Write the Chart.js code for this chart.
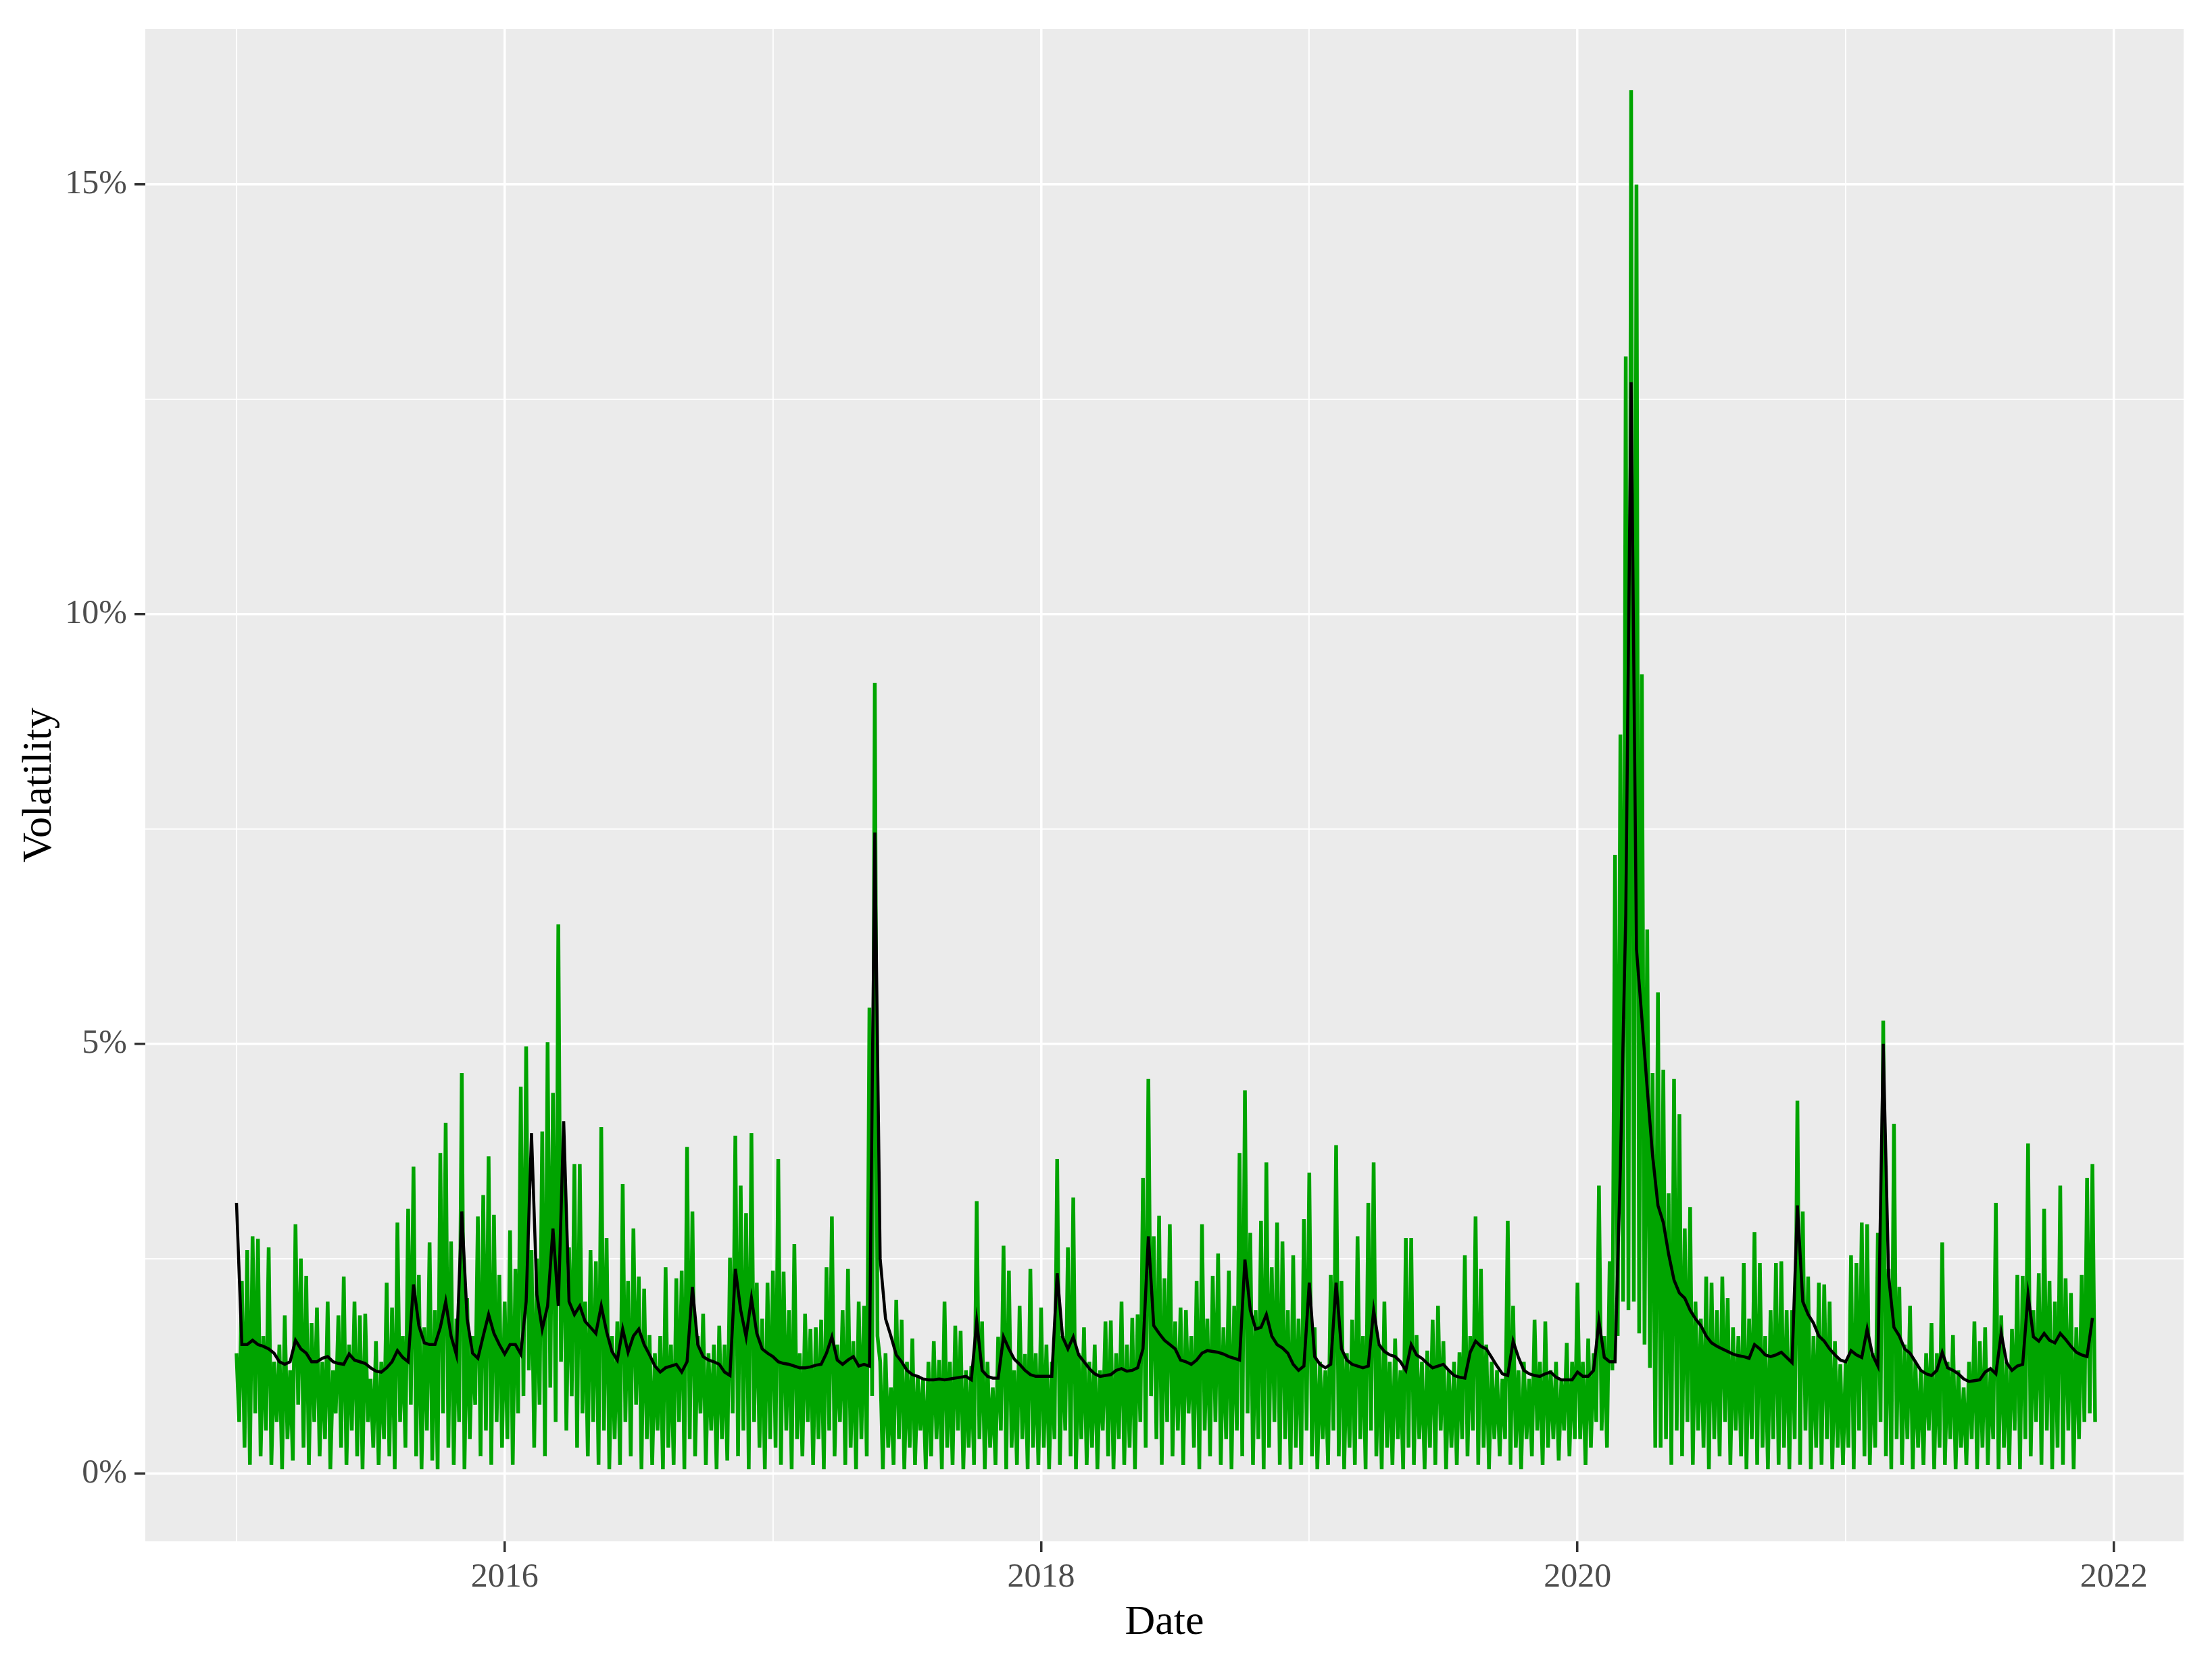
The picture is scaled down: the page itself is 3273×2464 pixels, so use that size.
<!DOCTYPE html>
<html lang="en">
<head>
<meta charset="UTF-8">
<title>Volatility</title>
<script src="https://cdn.jsdelivr.net/npm/chart.js"></script>
<style>
  html, body { margin: 0; padding: 0; background: #ffffff; }
  canvas { display: block; }
</style>
</head>
<body>
<canvas id="chart" width="3273" height="2464"></canvas>
<script>
// green = absolute return (%), 100 samples a year
const years = [2015, 2016, 2017, 2018, 2019, 2020, 2021];

const absRet2015 = [1.4, 0.6, 2.24, 0.3, 2.6, 0.1, 2.76, 0.7, 2.73, 0.2,
  1.6, 0.5, 2.63, 0.1, 1.3, 0.6, 1.5, 0.05, 1.84, 0.4,
  1.2, 0.15, 2.9, 0.8, 2.5, 0.3, 2.3, 0.1, 1.75, 0.6,
  1.93, 0.2, 1.3, 0.4, 2.0, 0.05, 1.2, 0.7, 1.84, 0.3,
  2.29, 0.1, 1.5, 0.5, 2.0, 0.2, 1.84, 0.05, 1.86, 0.6,
  1.1, 0.3, 1.54, 0.1, 1.3, 0.4, 2.22, 0.2, 1.93, 0.05,
  2.92, 0.6, 1.6, 0.3, 3.08, 0.8, 3.57, 0.2, 2.31, 0.05,
  1.7, 0.5, 2.69, 0.15, 1.9, 0.05, 3.73, 0.7, 4.08, 0.3,
  2.7, 0.1, 1.8, 0.6, 4.66, 0.05, 2.04, 0.4, 1.6, 0.8,
  2.99, 0.2, 3.24, 0.5, 3.69, 0.1, 3.01, 0.6, 2.31, 0.3];

const absRet2016 = [2.0, 0.4, 2.83, 0.1, 2.38, 0.7, 4.5, 0.9, 4.97, 1.2,
  2.6, 0.3, 2.5, 0.8, 3.98, 0.2, 5.02, 1.0, 4.43, 0.6,
  6.39, 1.3, 3.6, 0.5, 2.63, 0.9, 3.6, 0.3, 3.6, 0.7,
  2.0, 0.2, 2.6, 0.6, 2.47, 0.1, 4.03, 0.5, 2.74, 0.05,
  1.6, 0.4, 1.77, 0.1, 3.37, 0.6, 2.24, 0.2, 2.85, 0.8,
  2.29, 0.05, 2.15, 0.4, 1.61, 0.1, 1.4, 0.5, 1.6, 0.05,
  2.4, 0.3, 1.5, 0.1, 2.27, 0.6, 2.36, 0.05, 3.8, 0.4,
  3.05, 0.2, 1.6, 0.7, 1.86, 0.1, 1.4, 0.5, 1.5, 0.05,
  1.72, 0.4, 1.5, 0.15, 2.51, 0.7, 3.93, 0.2, 3.35, 0.5,
  3.03, 0.05, 3.96, 0.6, 2.22, 0.3, 1.8, 0.05, 2.22, 0.4];

const absRet2017 = [2.36, 0.3, 3.66, 0.1, 2.35, 0.5, 1.9, 0.05, 2.67, 0.4,
  1.4, 0.2, 1.86, 0.6, 1.68, 0.1, 1.7, 0.4, 1.79, 0.05,
  2.4, 0.5, 2.99, 0.2, 1.5, 0.6, 1.9, 0.1, 2.38, 0.3,
  1.54, 0.05, 2.0, 0.4, 1.95, 0.2, 5.42, 0.9, 9.2, 1.6,
  1.3, 0.05, 1.4, 0.3, 1.0, 0.1, 2.02, 0.4, 1.79, 0.05,
  1.3, 0.3, 1.57, 0.1, 1.14, 0.5, 1.1, 0.05, 1.3, 0.2,
  1.54, 0.4, 1.32, 0.05, 2.0, 0.3, 1.3, 0.1, 1.72, 0.5,
  1.66, 0.05, 1.2, 0.3, 1.25, 0.1, 3.17, 0.4, 1.77, 0.05,
  1.3, 0.3, 1.0, 0.1, 1.59, 0.5, 2.65, 0.05, 2.36, 0.3,
  1.2, 0.1, 1.95, 0.4, 1.39, 0.05, 2.38, 0.3, 1.4, 0.1];

const absRet2018 = [1.93, 0.3, 1.5, 0.05, 1.3, 0.4, 3.66, 0.1, 1.6, 0.5,
  2.63, 0.2, 3.21, 0.05, 1.4, 0.4, 1.7, 0.1, 1.3, 0.3,
  1.5, 0.05, 1.2, 0.5, 1.77, 0.2, 1.78, 0.05, 1.4, 0.4,
  2.0, 0.1, 1.5, 0.3, 1.81, 0.05, 1.85, 0.6, 3.44, 0.3,
  4.59, 0.9, 2.76, 0.4, 3.0, 0.1, 2.27, 0.6, 2.9, 0.2,
  1.77, 0.5, 1.93, 0.1, 1.9, 0.7, 1.6, 0.3, 2.24, 0.05,
  2.9, 0.5, 1.8, 0.2, 2.3, 0.6, 2.56, 0.1, 1.7, 0.4,
  2.36, 0.05, 1.95, 0.5, 3.73, 0.2, 4.46, 0.7, 2.8, 0.1,
  1.9, 0.4, 2.94, 0.05, 3.62, 0.3, 2.4, 0.6, 2.92, 0.1,
  2.7, 0.4, 1.9, 0.05, 2.54, 0.3, 1.8, 0.1, 2.96, 0.5];

const absRet2019 = [3.5, 0.2, 1.7, 0.05, 1.3, 0.4, 1.2, 0.1, 2.31, 0.5,
  3.82, 0.2, 2.24, 0.05, 1.4, 0.3, 1.79, 0.1, 2.76, 0.4,
  1.6, 0.05, 3.15, 0.5, 3.62, 0.2, 1.5, 0.05, 2.0, 0.3,
  1.3, 0.1, 1.57, 0.4, 1.2, 0.05, 2.74, 0.3, 2.74, 0.1,
  1.61, 0.4, 1.3, 0.05, 1.43, 0.3, 1.79, 0.1, 1.95, 0.5,
  1.54, 0.05, 1.2, 0.3, 1.3, 0.1, 1.41, 0.4, 2.54, 0.2,
  1.6, 0.5, 2.99, 0.1, 2.38, 0.3, 1.5, 0.05, 1.3, 0.4,
  1.2, 0.2, 1.1, 0.4, 2.94, 0.1, 1.95, 0.3, 1.2, 0.05,
  1.3, 0.4, 1.1, 0.2, 1.79, 0.5, 1.3, 0.1, 1.77, 0.3,
  1.2, 0.4, 1.3, 0.15, 1.1, 0.5, 1.52, 0.2, 1.3, 0.4];

const absRet2020 = [2.22, 0.4, 1.3, 0.1, 1.57, 0.3, 1.4, 0.6, 3.35, 0.5,
  1.6, 0.3, 2.47, 1.2, 7.2, 1.6, 8.6, 2.0, 13.0, 1.9,
  16.1, 2.0, 15.0, 1.63, 9.3, 1.5, 6.33, 1.23, 4.66, 0.3,
  5.6, 0.3, 4.7, 0.4, 3.26, 0.1, 4.59, 0.5, 4.18, 0.2,
  2.85, 0.6, 3.1, 0.1, 2.0, 0.5, 1.8, 0.3, 2.29, 0.05,
  2.22, 0.4, 1.9, 0.2, 2.29, 0.6, 2.04, 0.1, 1.7, 0.5,
  1.6, 0.2, 2.45, 0.05, 1.8, 0.4, 2.81, 0.1, 2.45, 0.3,
  1.6, 0.05, 1.9, 0.4, 2.45, 0.1, 2.47, 0.3, 1.9, 0.05,
  1.9, 0.4, 4.34, 0.1, 3.05, 0.5, 2.29, 0.05, 1.6, 0.3,
  2.22, 0.1, 2.2, 0.4, 2.0, 0.05, 1.54, 0.3, 1.27, 0.1];

const absRet2021 = [1.3, 0.3, 2.54, 0.05, 2.45, 0.5, 2.92, 0.2, 2.9, 0.1,
  1.4, 0.3, 2.8, 0.6, 5.27, 0.2, 2.38, 0.05, 4.07, 0.4,
  2.17, 0.1, 1.5, 0.4, 1.95, 0.05, 1.3, 0.3, 1.2, 0.1,
  1.4, 0.5, 1.75, 0.05, 1.4, 0.3, 2.69, 0.1, 1.3, 0.4,
  1.61, 0.05, 1.2, 0.3, 1.0, 0.1, 1.3, 0.4, 1.77, 0.05,
  1.54, 0.3, 1.7, 0.1, 1.2, 0.4, 3.15, 0.05, 1.84, 0.3,
  1.3, 0.1, 1.68, 0.5, 2.31, 0.05, 2.3, 0.4, 3.84, 0.2,
  1.9, 0.6, 2.33, 0.1, 3.08, 0.5, 2.24, 0.05, 2.0, 0.3,
  3.35, 0.1, 2.27, 0.5, 2.1, 0.05, 1.7, 0.4, 2.31, 0.6,
  3.44, 0.7, 3.6, 0.6];

// black = conditional volatility (%), 50 samples a year
const condVol2015 = [3.15, 1.5, 1.5, 1.55, 1.5, 1.48, 1.45, 1.4, 1.3, 1.27,
  1.3, 1.55, 1.45, 1.4, 1.3, 1.3, 1.34, 1.36, 1.3, 1.28,
  1.27, 1.39, 1.32, 1.3, 1.28, 1.23, 1.19, 1.18, 1.23, 1.3,
  1.43, 1.35, 1.3, 2.2, 1.72, 1.52, 1.5, 1.5, 1.7, 2.0,
  1.6, 1.38, 3.05, 1.8, 1.4, 1.34, 1.6, 1.85, 1.63, 1.5];

const condVol2016 = [1.39, 1.5, 1.5, 1.39, 2.0, 3.96, 2.08, 1.68, 1.95, 2.85,
  1.95, 4.1, 2.0, 1.85, 1.95, 1.77, 1.7, 1.63, 1.95, 1.65,
  1.42, 1.32, 1.68, 1.41, 1.6, 1.68, 1.5, 1.38, 1.25, 1.18,
  1.23, 1.25, 1.27, 1.18, 1.3, 2.17, 1.5, 1.36, 1.32, 1.3,
  1.27, 1.18, 1.14, 2.38, 1.9, 1.59, 2.04, 1.63, 1.45, 1.4];

const condVol2017 = [1.36, 1.3, 1.28, 1.27, 1.25, 1.23, 1.23, 1.24, 1.26, 1.27,
  1.4, 1.59, 1.32, 1.27, 1.32, 1.36, 1.25, 1.27, 1.25, 7.46,
  2.5, 1.8, 1.6, 1.38, 1.3, 1.2, 1.15, 1.13, 1.1, 1.09,
  1.09, 1.1, 1.09, 1.1, 1.11, 1.12, 1.13, 1.09, 1.77, 1.2,
  1.13, 1.11, 1.11, 1.59, 1.45, 1.33, 1.27, 1.2, 1.15, 1.13];

const condVol2018 = [1.13, 1.13, 1.13, 2.33, 1.59, 1.45, 1.59, 1.38, 1.3, 1.22,
  1.16, 1.13, 1.14, 1.15, 1.2, 1.22, 1.19, 1.2, 1.23, 1.45,
  2.76, 1.72, 1.63, 1.55, 1.5, 1.45, 1.32, 1.3, 1.27, 1.32,
  1.4, 1.43, 1.42, 1.41, 1.39, 1.36, 1.34, 1.32, 2.49, 1.9,
  1.68, 1.7, 1.85, 1.6, 1.5, 1.46, 1.4, 1.27, 1.2, 1.25];

const condVol2019 = [2.22, 1.36, 1.27, 1.23, 1.27, 2.22, 1.45, 1.32, 1.27, 1.25,
  1.23, 1.25, 1.9, 1.5, 1.42, 1.38, 1.36, 1.3, 1.2, 1.5,
  1.38, 1.34, 1.28, 1.23, 1.25, 1.27, 1.2, 1.14, 1.12, 1.11,
  1.41, 1.54, 1.48, 1.45, 1.35, 1.25, 1.16, 1.14, 1.54, 1.35,
  1.2, 1.16, 1.14, 1.13, 1.16, 1.18, 1.12, 1.09, 1.09, 1.09];

const condVol2020 = [1.18, 1.13, 1.13, 1.2, 1.77, 1.35, 1.3, 1.3, 3.57, 6.5,
  12.7, 6.1, 5.3, 4.48, 3.7, 3.12, 2.92, 2.55, 2.25, 2.1,
  2.04, 1.9, 1.8, 1.72, 1.6, 1.52, 1.48, 1.45, 1.42, 1.39,
  1.37, 1.36, 1.34, 1.5, 1.45, 1.38, 1.36, 1.38, 1.41, 1.35,
  1.29, 3.12, 2.0, 1.85, 1.75, 1.6, 1.54, 1.45, 1.38, 1.32];

const condVol2021 = [1.3, 1.43, 1.38, 1.35, 1.68, 1.38, 1.25, 5.0, 2.3, 1.7,
  1.6, 1.45, 1.4, 1.3, 1.2, 1.16, 1.14, 1.2, 1.41, 1.23,
  1.2, 1.16, 1.1, 1.07, 1.08, 1.09, 1.18, 1.22, 1.16, 1.63,
  1.29, 1.2, 1.25, 1.27, 2.08, 1.59, 1.54, 1.63, 1.55, 1.52,
  1.63, 1.56, 1.48, 1.41, 1.38, 1.36, 1.81];

const yearTicks = [2015, 2016, 2017, 2018, 2019, 2020, 2021, 2022];
const yearLabels = [2016, 2018, 2020, 2022];
const pctTicks = [0, 2.5, 5, 7.5, 10, 12.5, 15];
const pctLabels = [0, 5, 10, 15];

const absRet = [absRet2015, absRet2016, absRet2017, absRet2018, absRet2019, absRet2020, absRet2021];
const condVol = [condVol2015, condVol2016, condVol2017, condVol2018, condVol2019, condVol2020, condVol2021];

function toPoints(year, values, perYear) {
  return values.map((v, i) => ({ x: year + i / perYear, y: v }));
}

const greenPts = years.flatMap((yr, k) => toPoints(yr, absRet[k], 100));
const blackPts = years.flatMap((yr, k) => toPoints(yr, condVol[k], 50));

// grey ggplot panel behind the grid
const panelBg = {
  id: 'panelBg',
  beforeDraw(chart) {
    const { ctx, chartArea: a } = chart;
    ctx.save();
    ctx.fillStyle = '#EBEBEB';
    ctx.fillRect(a.left, a.top, a.right - a.left, a.bottom - a.top);
    ctx.restore();
  }
};

const serif = 'Liberation Serif';
const tickValue = c => (c.tick ? c.tick.value : null);

new Chart(document.getElementById('chart'), {
  type: 'line',
  data: {
    datasets: [
      { label: 'Conditional volatility', data: blackPts, borderColor: '#000000', borderWidth: 4.5, pointRadius: 0, tension: 0 },
      { label: 'Absolute return', data: greenPts, borderColor: '#00A400', borderWidth: 5.5, pointRadius: 0, tension: 0 }
    ]
  },
  options: {
    responsive: false,
    animation: false,
    devicePixelRatio: 1,
    events: [],
    layout: { padding: { left: 0, top: 43, right: 42, bottom: 0 } },
    plugins: { legend: { display: false }, tooltip: { enabled: false } },
    scales: {
      x: {
        type: 'linear',
        min: 2014.66,
        max: 2022.26,
        afterBuildTicks: s => { s.ticks = yearTicks.map(v => ({ value: v })); },
        afterFit: s => { s.height = 183; },
        border: { display: false },
        grid: {
          color: '#FFFFFF',
          lineWidth: c => (yearLabels.includes(tickValue(c)) ? 3.5 : 1.8),
          tickLength: 16,
          tickWidth: 3.5,
          tickColor: c => (yearLabels.includes(tickValue(c)) ? '#333333' : 'rgba(0,0,0,0)')
        },
        ticks: {
          autoSkip: false,
          maxRotation: 0,
          padding: 8,
          color: '#4D4D4D',
          font: { family: serif, size: 50, lineHeight: 1.2 },
          callback: v => (yearLabels.includes(v) ? String(v) : '')
        },
        title: {
          display: true,
          text: 'Date',
          color: '#000000',
          font: { family: serif, size: 62, lineHeight: 1.2 },
          padding: { top: 0, bottom: 25 }
        }
      },
      y: {
        min: -0.79,
        max: 16.81,
        afterBuildTicks: s => { s.ticks = pctTicks.map(v => ({ value: v })); },
        afterFit: s => { s.width = 215; },
        border: { display: false },
        grid: {
          color: '#FFFFFF',
          lineWidth: c => (pctLabels.includes(tickValue(c)) ? 3.5 : 1.8),
          tickLength: 16,
          tickWidth: 3.5,
          tickColor: c => (pctLabels.includes(tickValue(c)) ? '#333333' : 'rgba(0,0,0,0)')
        },
        ticks: {
          padding: 11,
          color: '#4D4D4D',
          font: { family: serif, size: 50, lineHeight: 1.2 },
          callback: v => (pctLabels.includes(v) ? v + '%' : '')
        },
        title: {
          display: true,
          text: 'Volatility',
          color: '#000000',
          font: { family: serif, size: 62, lineHeight: 1.2 },
          padding: { top: 22, bottom: 0 }
        }
      }
    }
  },
  plugins: [panelBg]
});
</script>
</body>
</html>
